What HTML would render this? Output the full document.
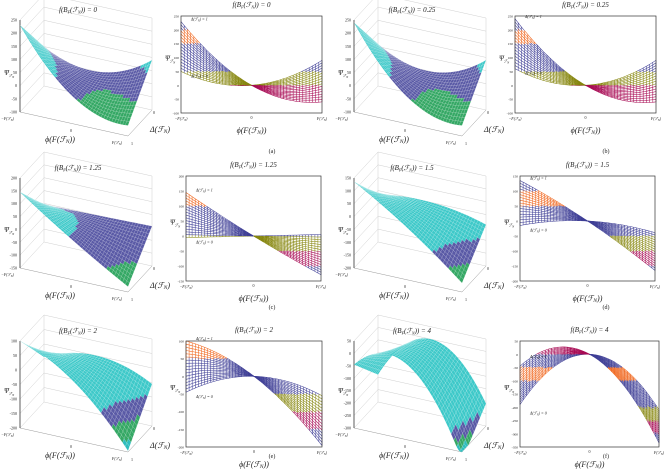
<!DOCTYPE html>
<html><head><meta charset="utf-8">
<style>
html,body{margin:0;padding:0;background:#fff;}
svg{display:block;font-family:"Liberation Serif",serif;}
</style></head>
<body>
<svg id="fig" width="668" height="473" viewBox="0 0 668 473" xmlns="http://www.w3.org/2000/svg"></svg>
<script>
// ---- data ----
const panelLetters = ["(a)","(b)","(c)","(d)","(e)","(f)"];
const fValues = ["0","0.25","1.25","1.5","2","4"];
const yMin = [-100,-100,-150,-200,-200,-350];
const yMax = [250,250,200,150,100,50];
const zMin = [-100,-100,-150,-200,-200,-300];
const zMax = [250,250,200,150,100,50];
const d0c1 = [20,15,5,-12,-5,-10];
const d0c2 = [70,75,0,-27,-50,-200];
const d1c1 = [-145,-150,-137,-150,-148,-145];
const d1c2 = [85,90,8,-15,-48,-190];
const bands2D = [
 [200,150,50,0],[200,150,50,0],[150,100,0,-50,-100],[100,50,-50,-100,-150],[50,-50,-100,-150],[0,-50,-100,-200,-250,-300]];
const bandCols2D = [
 ["B","O","B","Y","M"],["B","O","B","Y","M"],["B","O","B","Y","M","B"],["B","O","B","Y","M","B"],["O","B","Y","M","B"],["M","B","O","B","Y","M","B"]];
const bands3D = [[60,-10,-80],[60,-10,-80],[10,-75,-125],[-70,-120,-170],[-80,-125,-170],[-230,-265,-290]];

const C2 = {B:"#3f3f96",O:"#f0641a",Y:"#86860e",M:"#a80c55"};
const C3 = ["#3ec9c9","#5a5aa6","#35a865","#2fbdbd"];
const box2 = [[181,16,322,113],[515,16,656,113],[186,176,321,281],[520,176,655,281],[186,341,322,447],[520,341,659,447]];
const rowTB = [[20,112],[178,268],[341,428]];

const NS="http://www.w3.org/2000/svg";
const svg=document.getElementById('fig');
function el(tag,attrs,parent){const e=document.createElementNS(NS,tag);for(const k in attrs)e.setAttribute(k,attrs[k]);(parent||svg).appendChild(e);return e;}
function txt(s,x,y,size,anchor,parent,italic){const t=el('text',{x:x,y:y,'font-size':size,'text-anchor':anchor||'start',fill:'#222'},parent);if(italic)t.setAttribute('font-style','italic');t.textContent=s;return t;}
function fn(i,x,d){return (1-d)*(d0c1[i]*x+d0c2[i]*x*x)+d*(d1c1[i]*x+d1c2[i]*x*x);}
function col2(i,v){const th=bands2D[i];let k=0;while(k<th.length&&v<th[k])k++;return C2[bandCols2D[i][k]];}
function col3(i,v){const th=bands3D[i];let k=0;while(k<th.length&&v<th[k])k++;return C3[k];}
const FN='F(ℱ<tspan font-size="70%" dy="1">N</tspan><tspan dy="-1">)</tspan>';

for(let i=0;i<6;i++){
  const col=i%2,row=Math.floor(i/2),ox=col*334;
  const [T,B]=rowTB[row];
  // ---------- 3D panel ----------
  const g3=el('g',{});
  
  
  const H=B-T;
  const P=(x,d,z)=>{z=Math.max(zMin[i],Math.min(zMax[i],z));return [ox+20+(x+1)/2*108+(1-d)*24, B+(x+1)/2*24-(1-d)*26-(z-zMin[i])/(zMax[i]-zMin[i])*H];};
  const wall=el('g',{stroke:'#cfcfcf','stroke-width':0.5,fill:'none'},g3);
  
  
  const nT=Math.round((zMax[i]-zMin[i])/50);
  for(let k=0;k<=nT;k++){const z=zMin[i]+k*50;const a=P(-1,1,z),b=P(-1,0,z),c=P(1,0,z);
    el('polyline',{points:`${a} ${b} ${c}`},wall);}
  [[-1,0],[1,0]].forEach(([x,d])=>{const a=P(x,d,zMin[i]),b=P(x,d,zMax[i]);el('line',{x1:a[0],y1:a[1],x2:b[0],y2:b[1]},wall);});
  {const a=P(-1,1,zMin[i]),b=P(1,1,zMin[i]),c=P(1,0,zMin[i]);el('polyline',{points:`${a} ${b} ${c}`,stroke:'#999'},wall);}
  {const a=P(-1,1,zMin[i]),b=P(-1,1,zMax[i]);el('line',{x1:a[0],y1:a[1],x2:b[0],y2:b[1],stroke:'#333','stroke-width':0.8},g3);}
  for(let k=0;k<=nT;k++){const z=zMin[i]+k*50;const a=P(-1,1,z);txt(String(z),a[0]-3,a[1]+1.5,4,'end',g3);}
  const NX=40,ND=16,cells=[];
  for(let a=0;a<NX;a++)for(let b=0;b<ND;b++){const x0=-1+2*a/NX,x1=-1+2*(a+1)/NX,dd0=b/ND,dd1=(b+1)/ND;
    cells.push({x0,x1,dd0,dd1,key:(x0+1)/2+dd0});}
  cells.sort((p,q)=>p.key-q.key);
  const sg=el('g',{'stroke-width':0.3},g3);
  
  
  cells.forEach(c=>{const xm=(c.x0+c.x1)/2,dm=(c.dd0+c.dd1)/2;const v=fn(i,xm,dm);const cl=col3(i,v);
    const pts=[P(c.x0,c.dd0,fn(i,c.x0,c.dd0)),P(c.x1,c.dd0,fn(i,c.x1,c.dd0)),P(c.x1,c.dd1,fn(i,c.x1,c.dd1)),P(c.x0,c.dd1,fn(i,c.x0,c.dd1))];
    el('polygon',{points:pts.map(p=>p.join(',')).join(' '),fill:cl,stroke:'#ffffff','stroke-opacity':0.35},sg);});
  txt('',ox+78,T-8,7,'middle',g3,true).innerHTML='f(B<tspan font-size="4" dy="1.5">F</tspan><tspan dy="-1.5">(ℱ</tspan><tspan font-size="4" dy="1.5">N</tspan><tspan dy="-1.5">)) = '+fValues[i]+'</tspan>';
  txt('',ox+4,T+(B-T)*0.6,7,'start',g3,true).innerHTML='Ψ<tspan font-size="4" dy="2">ℱ</tspan><tspan font-size="3" dy="1">N</tspan>';
  txt('',ox+14,B+8,4,'end',g3,true).innerHTML='−'+FN;
  txt('0',ox+71,B+20,4,'middle',g3);
  txt('',ox+117,B+32,4,'middle',g3,true).innerHTML=FN;
  txt('0',ox+154,B+2,4,'middle',g3);
  txt('1',ox+132,B+33,4,'middle',g3);
  txt('',ox+60,B+30,8,'middle',g3,true).innerHTML='ϕ('+FN+')';
  txt('',ox+160,B+20,8,'middle',g3,true).innerHTML='Δ(ℱ<tspan font-size="70%" dy="1">N</tspan><tspan dy="-1">)</tspan>';
  txt(panelLetters[i],ox+272,(row==0?153:row==1?309:458),6,'middle',g3);

  // ---------- 2D panel ----------
  const [L,Tp,R,Bt]=box2[i];
  const g2=el('g',{});
  
  
  const X=x=>L+(x+1)/2*(R-L), Y=v=>Bt-(v-yMin[i])/(yMax[i]-yMin[i])*(Bt-Tp);
  const mg=el('g',{'stroke-width':0.55,fill:'none'},g2);
  
  
  const NC=16,NS2=60,NV=44;
  for(let c=0;c<=NC;c++){const d=c/NC;for(let s=0;s<NS2;s++){const xa=-1+2*s/NS2,xb=-1+2*(s+1)/NS2;const va=fn(i,xa,d),vb=fn(i,xb,d);
    el('line',{x1:X(xa).toFixed(1),y1:Y(va).toFixed(1),x2:X(xb).toFixed(1),y2:Y(vb).toFixed(1),stroke:col2(i,(va+vb)/2)},mg);}}
  for(let s=0;s<=NV;s++){const x=-1+2*s/NV;for(let c=0;c<NC;c++){const va=fn(i,x,c/NC),vb=fn(i,x,(c+1)/NC);
    el('line',{x1:X(x).toFixed(1),y1:Y(va).toFixed(1),x2:X(x).toFixed(1),y2:Y(vb).toFixed(1),stroke:col2(i,(va+vb)/2)},mg);}}
  const bx=el('rect',{x:L,y:Tp,width:R-L,height:Bt-Tp,fill:'none',stroke:'#333','stroke-width':0.7},g2);
  
  
  for(let v=yMin[i];v<=yMax[i];v+=50){txt(String(v),L-2,Y(v)+1.5,3.5,'end',g2);}
  txt('',L,Bt+7,4,'middle',g2,true).innerHTML='−'+FN;
  txt('0',(L+R)/2,Bt+6,4,'middle',g2);
  txt('',R,Bt+7,4,'middle',g2,true).innerHTML=FN;
  txt('',(L+R)/2,Bt+20,8,'middle',g2,true).innerHTML='ϕ('+FN+')';
  txt('',L-16,(Tp+Bt)/2-4,7,'start',g2,true).innerHTML='Ψ<tspan font-size="4" dy="2">ℱ</tspan><tspan font-size="3" dy="1">N</tspan>';
  txt('',(L+R)/2,Tp-9,7,'middle',g2,true).innerHTML='f(B<tspan font-size="4" dy="1.5">F</tspan><tspan dy="-1.5">(ℱ</tspan><tspan font-size="4" dy="1.5">N</tspan><tspan dy="-1.5">)) = '+fValues[i]+'</tspan>';
  txt('',L+10,Y(fn(i,-1,1))+(i==5?-8:-1),4,'start',g2,true).innerHTML='Δ(ℱ<tspan font-size="70%" dy="1">N</tspan><tspan dy="-1">) = 1</tspan>';
  txt('',L+10,Y(fn(i,-1,0))+(i==5?10:6),4,'start',g2,true).innerHTML='Δ(ℱ<tspan font-size="70%" dy="1">N</tspan><tspan dy="-1">) = 0</tspan>';
}
</script>
</body></html>
